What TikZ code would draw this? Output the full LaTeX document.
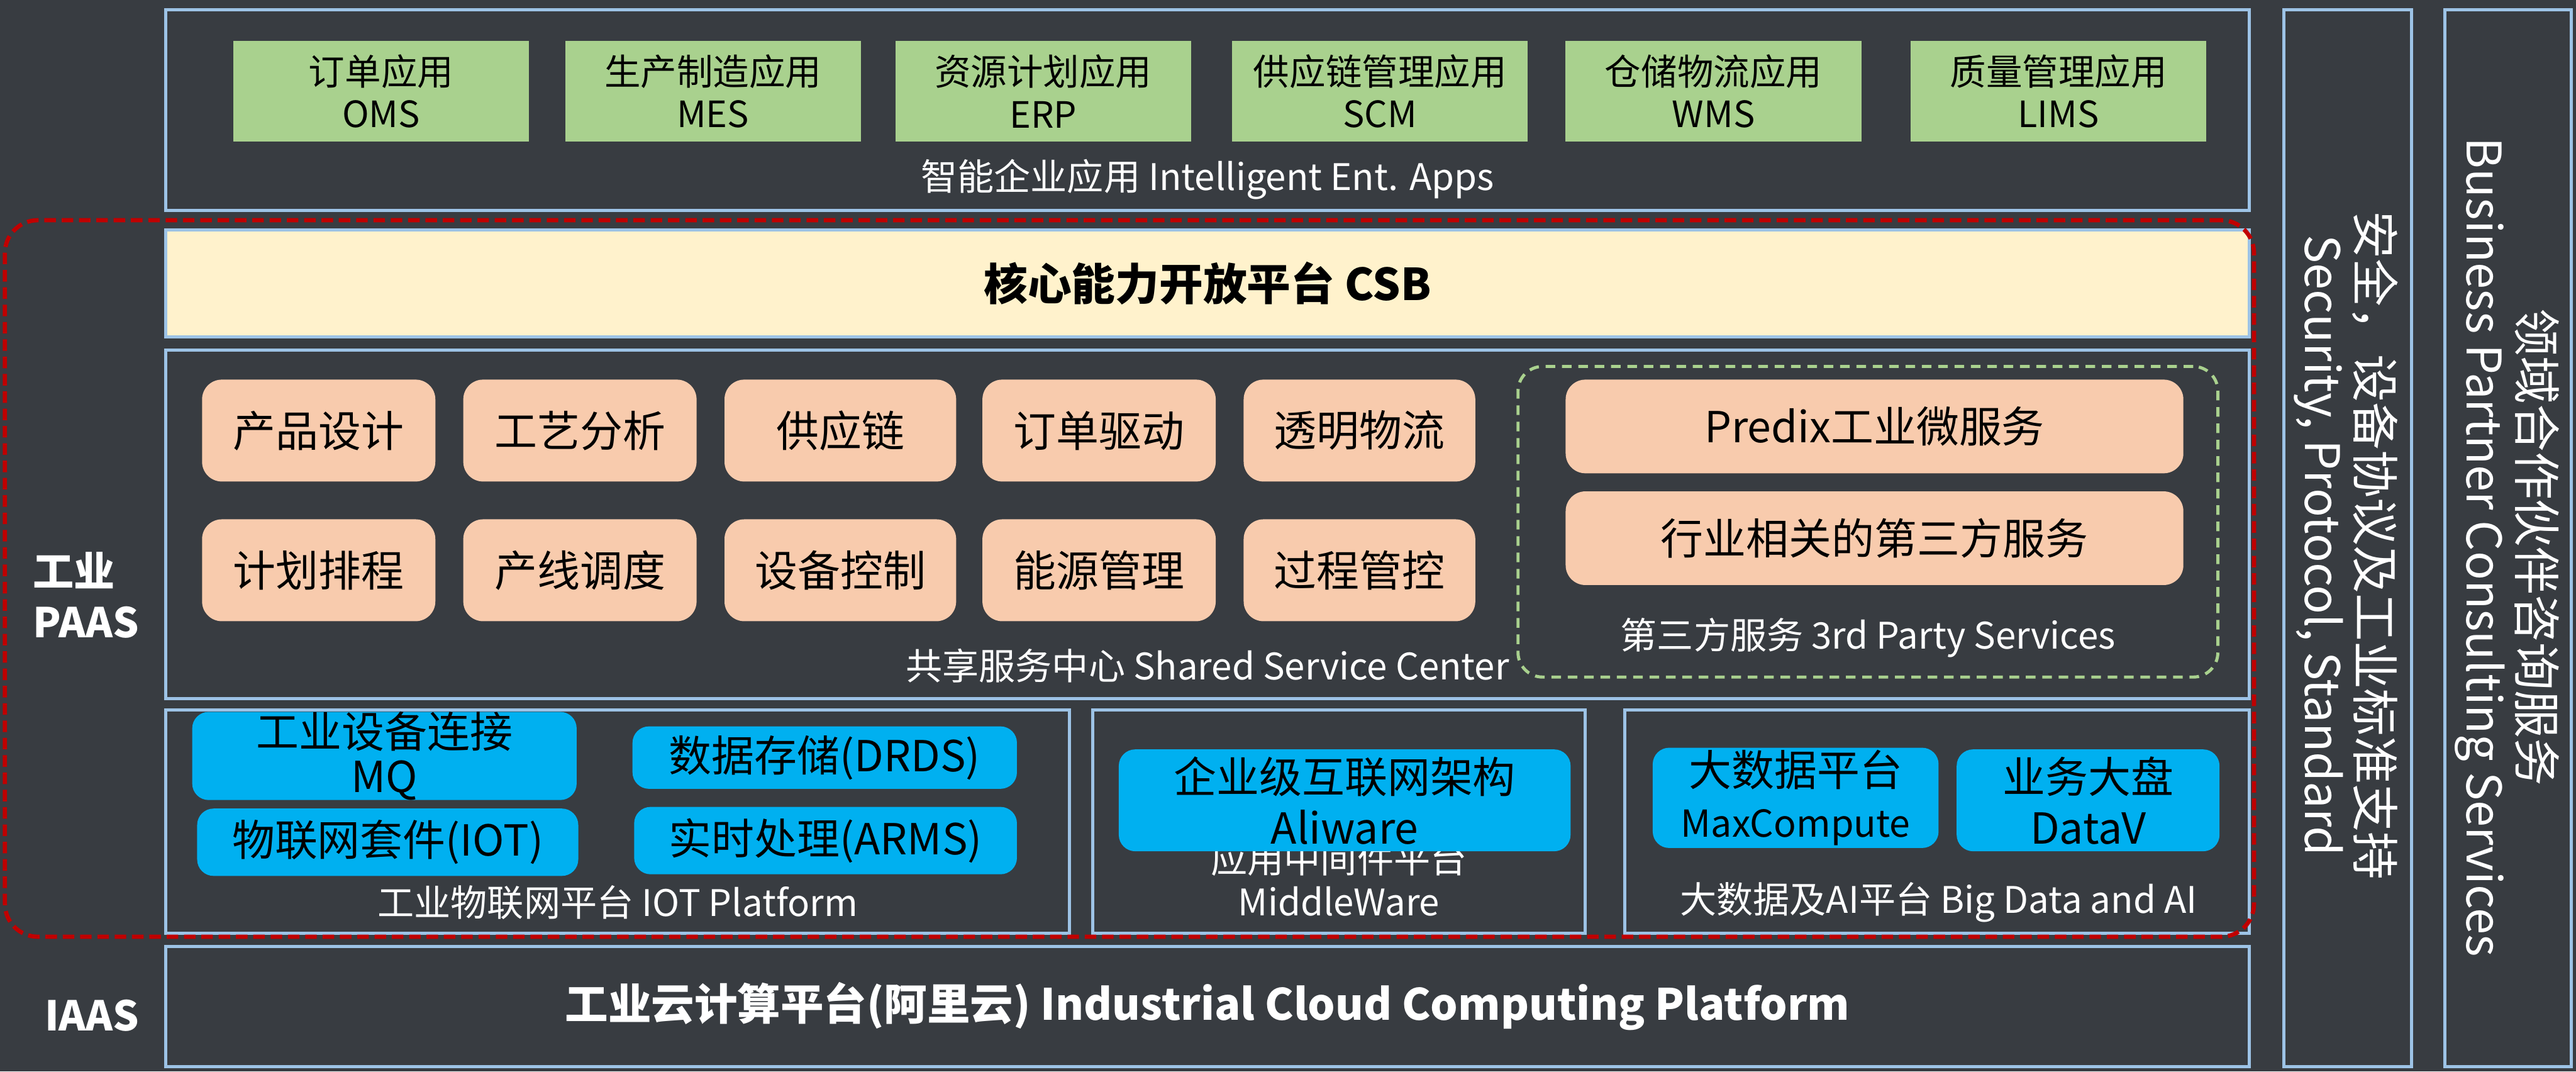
\documentclass[tikz,border=0pt]{standalone}
\usepackage{fontspec}
\setmainfont{Noto Sans CJK SC}
\definecolor{bg}{RGB}{56,60,65}
\definecolor{bord}{RGB}{157,195,230}
\definecolor{appg}{RGB}{169,209,142}
\definecolor{peach}{RGB}{248,203,173}
\definecolor{cream}{RGB}{255,242,204}
\definecolor{cyanb}{RGB}{0,176,240}
\definecolor{redd}{RGB}{192,0,0}
\newcommand\bnode[7]{\node[#1, minimum width={(#5-#3)*0.3mm}, minimum height={(#6-#4)*0.3mm}] (#2) at ({(#3+#5)/2},{(#4+#6)/2}) {#7};}
\tikzset{
 every node/.style={inner sep=0pt, outer sep=0pt},
 panel/.style={draw=bord, line width=1.6pt, fill=bg},
 appbox/.style={fill=appg, align=center, text=black, font=\fontsize{18.8}{22.2}\selectfont},
 svcbox/.style={fill=peach, rounded corners=3.6mm, text=black, align=center, font=\fontsize{22.2}{26}\selectfont},
 bluebox/.style={fill=cyanb, rounded corners=3mm, text=black, align=center, font=\fontsize{22.2}{26.5}\selectfont},
 lbl/.style={text=white, align=center, font=\fontsize{19}{22}\selectfont},
 redframe/.style={draw=redd, line width=2.2pt, dash pattern=on 6pt off 3pt, rounded corners=6mm},
 greenframe/.style={draw=appg, line width=1.6pt, dash pattern=on 5pt off 3.5pt, rounded corners=4.5mm},
 vlbl/.style={text=white, align=center, rotate=-90, font=\fontsize{24.8}{27.3}\selectfont},
}
\begin{document}
\begin{tikzpicture}[x=0.3mm, y=-0.3mm]
\fill[bg] (0,0) rectangle (1568,652);
\useasboundingbox (0,0) rectangle (1568,652);

% top applications
\bnode{panel}{apps}{101}{6}{1369}{128}{}
\bnode{appbox}{oms}{142}{25}{322}{86}{订单应用\\OMS}
\bnode{appbox}{mes}{344}{25}{524}{86}{生产制造应用\\MES}
\bnode{appbox}{erp}{545}{25}{725}{86}{资源计划应用\\ERP}
\bnode{appbox}{scm}{750}{25}{930}{86}{供应链管理应用\\SCM}
\bnode{appbox}{wms}{953}{25}{1133}{86}{仓储物流应用\\WMS}
\bnode{appbox}{lims}{1163}{25}{1343}{86}{质量管理应用\\LIMS}
\node[lbl] (appslbl) at (735,109) {智能企业应用 Intelligent Ent. Apps};

% CSB
\bnode{panel, fill=cream, text=black, font=\bfseries\fontsize{22.8}{26}\selectfont}{csb}{101}{140}{1369}{205}{核心能力开放平台 CSB}

% shared service center
\bnode{panel}{shared}{101}{213}{1369}{425}{}
\bnode{svcbox}{s1}{123}{231}{265}{293}{产品设计}
\bnode{svcbox}{s2}{282}{231}{424}{293}{工艺分析}
\bnode{svcbox}{s3}{441}{231}{582}{293}{供应链}
\bnode{svcbox}{s4}{598}{231}{740}{293}{订单驱动}
\bnode{svcbox}{s5}{757}{231}{898}{293}{透明物流}
\bnode{svcbox}{s6}{123}{316}{265}{378}{计划排程}
\bnode{svcbox}{s7}{282}{316}{424}{378}{产线调度}
\bnode{svcbox}{s8}{441}{316}{582}{378}{设备控制}
\bnode{svcbox}{s9}{598}{316}{740}{378}{能源管理}
\bnode{svcbox}{s10}{757}{316}{898}{378}{过程管控}
\node[lbl] (sharedlbl) at (735,405) {共享服务中心 Shared Service Center};
\bnode{greenframe}{third}{924}{223}{1350}{412}{}
\bnode{svcbox}{predix}{953}{231}{1329}{288}{Predix工业微服务}
\bnode{svcbox}{indus}{953}{299}{1329}{356}{行业相关的第三方服务}
\node[lbl] (thirdlbl) at (1137,388) {第三方服务 3rd Party Services};

% IOT platform
\bnode{panel}{iot}{101}{432}{651}{568}{}
\bnode{bluebox, font=\fontsize{22.2}{23}\selectfont}{mq}{117}{441}{351}{479}{工业设备连接\\MQ}
\bnode{bluebox}{drds}{385}{442}{619}{480}{数据存储(DRDS)}
\bnode{bluebox}{iotk}{120}{492}{352}{533}{物联网套件(IOT)}
\bnode{bluebox}{arms}{386}{491}{619}{532}{实时处理(ARMS)}
\node[lbl] (iotlbl) at (376,549) {工业物联网平台 IOT Platform};

% Middleware
\bnode{panel}{mw}{665}{432}{965}{568}{}
\node[lbl, font=\fontsize{19}{22.2}\selectfont] (mwlbl) at (815,535) {应用中间件平台\\MiddleWare};
\bnode{bluebox}{aliware}{681}{456}{956}{518}{企业级互联网架构\\Aliware}

% Big data
\bnode{panel}{bd}{989}{432}{1369}{568}{}
\bnode{bluebox}{maxc}{1006}{455}{1180}{516}{大数据平台\\\fontsize{19.3}{22}\selectfont MaxCompute}
\bnode{bluebox}{datav}{1191}{456}{1351}{518}{业务大盘\\DataV}
\node[lbl] (bdlbl) at (1180,549) {大数据及AI平台 Big Data and AI};

% red PAAS frame
\bnode{redframe}{paasframe}{3}{134}{1372}{570}{}
\node[text=white, align=left, anchor=west, font=\bfseries\fontsize{21.3}{26.5}\selectfont] (paas) at (20,362) {工业\\PAAS};

% IAAS
\bnode{panel, text=white, font=\bfseries\fontsize{22.4}{25}\selectfont}{iaas}{101}{576}{1369}{649}{工业云计算平台(阿里云) Industrial Cloud Computing Platform}
\node[text=white, font=\bfseries\fontsize{21.3}{25}\selectfont] (iaaslbl) at (56,618) {IAAS};

% right columns
\bnode{panel}{sec}{1390}{6}{1468}{649}{}
\node[vlbl] (sectext) at (1428,332) {安全，设备协议及工业标准支持\\Security, Protocol, Standard};
\bnode{panel}{biz}{1488}{6}{1565}{649}{}
\node[vlbl] (biztext) at (1526,333) {领域合作伙伴咨询服务\\Business Partner Consulting Services};
\end{tikzpicture}
\end{document}
